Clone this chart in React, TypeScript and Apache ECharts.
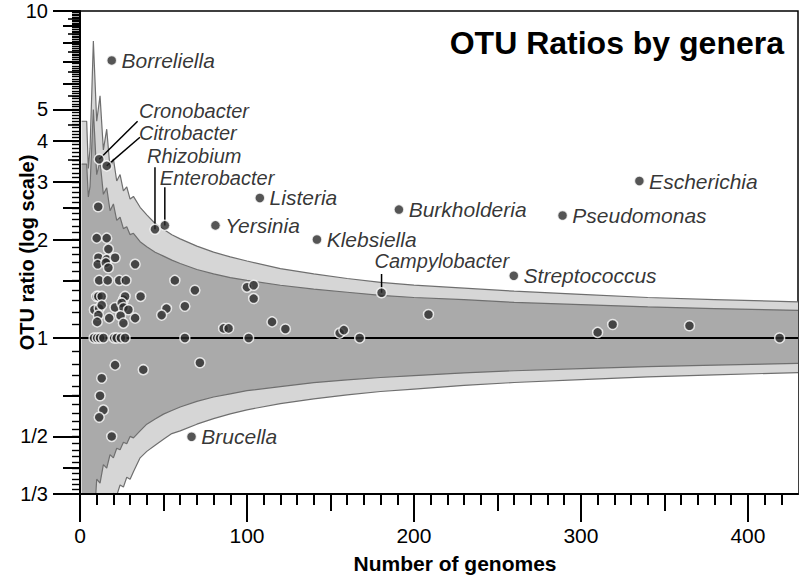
import React, { useEffect, useRef } from 'react';
import * as echarts from 'echarts';

const FONT = 'Liberation Sans, Arial, Helvetica, sans-serif';

// ---- unlabeled genera: number of genomes and OTU ratio ----
const genomeCounts = [
  10.9, 10, 16, 17, 11, 16, 21, 10.6, 15.5, 17, 33,
  11.5, 16.6, 23.5, 27.5, 56.8, 68.8, 10, 11, 13, 26, 27, 36.3,
  51.8, 48.9, 62.8, 8.6, 11.5, 13, 21, 25, 26, 29,
  11, 10.3, 17.5, 24.3, 33, 26,
  8.4, 10.3, 12, 14, 20.5, 22, 24.5, 27, 62.8, 101, 167.5, 419,
  21, 37.9, 13, 71.8, 12, 14, 11.5, 19,
  100, 104, 104, 86, 89, 115, 123, 155.5, 158, 208.7, 310, 319, 365,
];
const otuRatios = [
  2.52, 2.02, 2.02, 1.87, 1.76, 1.74, 1.76, 1.68, 1.70, 1.64, 1.68,
  1.50, 1.50, 1.50, 1.50, 1.50, 1.40, 1.34, 1.34, 1.34, 1.31, 1.34, 1.34,
  1.23, 1.175, 1.25, 1.22, 1.23, 1.26, 1.24, 1.28, 1.24, 1.22,
  1.175, 1.12, 1.15, 1.17, 1.15, 1.11,
  1, 1, 1, 1, 1, 1, 1, 1, 1, 1, 1, 1,
  0.826, 0.80, 0.753, 0.84, 0.666, 0.602, 0.572, 0.50,
  1.43, 1.45, 1.32, 1.07, 1.07, 1.12, 1.065, 1.035, 1.057, 1.18, 1.04, 1.10, 1.09,
];

// ---- labeled genera ----
const labeledGenera = ['Borreliella', 'Listeria', 'Yersinia', 'Klebsiella', 'Burkholderia', 'Pseudomonas', 'Escherichia', 'Streptococcus', 'Brucella'];
const labeledCounts = [19, 107.7, 81.1, 141.9, 191, 289, 335, 259.8, 66.8];
const labeledRatios = [7.06, 2.68, 2.21, 2.0, 2.47, 2.37, 3.02, 1.55, 0.499];

const leaderGenera = ['Cronobacter', 'Citrobacter', 'Rhizobium', 'Enterobacter', 'Campylobacter'];
const leaderCounts = [11.5, 16, 44.9, 50.8, 180.6];
const leaderRatios = [3.52, 3.36, 2.15, 2.21, 1.375];
// leader line ends and text anchors (layout, data coordinates)
const leaderLayout = {
  lineEnd: [[34.5, 4.6], [35.9, 4.11], [44.9, 3.33], [50.8, 2.89], [180.6, 1.57]],
  textAt: [[35.3, 4.94], [35.3, 4.23], [40.1, 3.6], [47.8, 3.08], [176.4, 1.72]],
};

// ---- confidence bands (ratio values read at each genome count) ----
const bandCounts = [1, 4, 5, 6, 7, 8, 10, 12, 14, 16, 18, 20, 22, 24, 26, 28, 30, 32, 36, 40, 45, 50, 55, 60, 70, 80, 90, 100, 120, 140, 160, 180, 200, 230, 260, 300, 340, 380, 430];
const upperOuter = [4.6, 4.6, 3.3, 3.8, 5.5, 8.1, 4.6, 5.5, 3.76, 4.35, 3.3, 3.53, 3.02, 3.16, 2.82, 2.9, 2.66, 2.71, 2.51, 2.38, 2.24, 2.15, 2.07, 2.01, 1.91, 1.83, 1.77, 1.72, 1.63, 1.57, 1.52, 1.48, 1.45, 1.42, 1.39, 1.36, 1.33, 1.31, 1.29];
const upperInner = [3.4, 3.4, 2.7, 2.9, 3.8, 5.0, 3.16, 3.47, 2.75, 2.88, 2.45, 2.57, 2.29, 2.34, 2.16, 2.19, 2.07, 2.09, 1.97, 1.9, 1.83, 1.78, 1.73, 1.69, 1.62, 1.57, 1.53, 1.5, 1.45, 1.41, 1.38, 1.35, 1.33, 1.31, 1.285, 1.265, 1.245, 1.23, 1.215];
const lowerInner = [0.2, 0.2, 0.2, 0.2, 0.2, 0.25, 0.37, 0.36, 0.41, 0.4, 0.44, 0.43, 0.46, 0.455, 0.48, 0.475, 0.5, 0.495, 0.52, 0.545, 0.565, 0.585, 0.6, 0.615, 0.64, 0.66, 0.675, 0.69, 0.71, 0.73, 0.745, 0.757, 0.767, 0.782, 0.794, 0.806, 0.817, 0.826, 0.836];
const lowerOuter = [0.15, 0.15, 0.15, 0.15, 0.15, 0.15, 0.18, 0.2, 0.22, 0.25, 0.3, 0.335, 0.33, 0.355, 0.35, 0.375, 0.37, 0.39, 0.43, 0.45, 0.47, 0.49, 0.51, 0.52, 0.545, 0.567, 0.586, 0.603, 0.63, 0.651, 0.67, 0.686, 0.698, 0.716, 0.731, 0.746, 0.76, 0.771, 0.784];

// ---- axes ----
const yTickValues = [1 / 3, 1 / 2, 1, 2, 3, 4, 5, 10];
const yTickLabels = ['1/3', '1/2', '1', '2', '3', '4', '5', '10'];
const yMediumTicks = [1 / 2.5, 1 / 1.5, 1.5, 2.5, 6, 7, 8, 9];
const ySmallMediumTicks = [3.5, 4.5, 5.5, 6.5, 7.5, 8.5, 9.5];
const xTickValues = [0, 100, 200, 300, 400];
const xMediumTicks = [50, 150, 250, 350];
const X_MAX = 430;

const lg = (v: number) => Math.log10(v);
const Y_MIN = lg(1 / 3);
const Y_MAX = lg(10);

function minorYTicks(): number[] {
  const out: number[] = [];
  for (let k = 1; k < 20; k++) out.push(lg(1 / (1 + k / 10)));
  for (let k = 1; k < 90; k++) out.push(lg(1 + k / 10));
  return out;
}
function minorXTicks(): number[] {
  const out: number[] = [];
  for (let v = 10; v < X_MAX; v += 10) out.push(v);
  return out;
}

function buildOption() {
  const yBase: any = {
    type: 'value', min: Y_MIN, max: Y_MAX, position: 'left', offset: 0, z: 10,
    splitLine: { show: false }, axisLabel: { show: false }, axisLine: { show: false, onZero: false },
  };
  const xBase: any = {
    type: 'value', min: 0, max: X_MAX, position: 'bottom', offset: 0, z: 10,
    splitLine: { show: false }, axisLabel: { show: false }, axisLine: { show: false, onZero: false },
  };
  const tickStyle = (w: number) => ({ color: '#000', width: w });

  const bandSeries = (vals: number[], fill: string) => ({
    type: 'line',
    z: 2,
    xAxisIndex: 0, yAxisIndex: 0,
    data: bandCounts.map((n, i) => [n, lg(vals[i])]),
    showSymbol: false, symbol: 'none', silent: true,
    lineStyle: { color: '#6f6f6f', width: 1.2 },
    areaStyle: { color: fill, opacity: 1, origin: 'start' },
    clip: true,
  });

  const pointStyle = { color: '#2b2b2b', borderColor: '#ffffff', borderWidth: 1.5 };
  const labelStyle = { fontFamily: FONT, fontSize: 21, fontStyle: 'italic', color: '#000' };

  return {
    animation: false,
    backgroundColor: '#ffffff',
    title: {
      text: 'OTU Ratios by genera', right: 11, top: 22,
      textStyle: { fontFamily: FONT, fontSize: 32, fontWeight: 'bold', color: '#000' },
    },
    grid: {
      left: 80, right: 2, top: 11, bottom: 85, show: true, borderColor: '#000', borderWidth: 1.5,
      backgroundColor: 'transparent', containLabel: false, outerBoundsMode: 'none',
    },
    xAxis: [
      {
        ...xBase,
        axisLine: { show: true, onZero: false, lineStyle: { color: '#000', width: 2 } },
        axisTick: { show: true, length: 28, lineStyle: tickStyle(2), customValues: xTickValues },
        axisLabel: { show: true, customValues: xTickValues, fontFamily: FONT, fontSize: 21, color: '#000', margin: 31 },
        name: 'Number of genomes', nameLocation: 'middle', nameGap: 59, nameMoveOverlap: false,
        nameTextStyle: { fontFamily: FONT, fontSize: 21, fontWeight: 'bold', color: '#000', padding: [0, 0, 0, 32] },
      },
      { ...xBase, axisTick: { show: true, length: 17, lineStyle: tickStyle(2), customValues: xMediumTicks } },
      { ...xBase, axisTick: { show: true, length: 11, lineStyle: tickStyle(2), customValues: minorXTicks() } },
    ],
    yAxis: [
      {
        ...yBase,
        axisLine: { show: true, onZero: false, lineStyle: { color: '#000', width: 2 } },
        axisTick: { show: true, length: 27, lineStyle: tickStyle(2), customValues: yTickValues.map(lg) },
        axisLabel: {
          show: true, customValues: yTickValues.map(lg), fontFamily: FONT, fontSize: 20, color: '#000', margin: 32,
          formatter: (v: number) => {
            const i = yTickValues.findIndex((t) => Math.abs(lg(t) - v) < 1e-6);
            return i >= 0 ? yTickLabels[i] : '';
          },
        },
        name: 'OTU ratio (log scale)', nameLocation: 'middle', nameGap: 43, nameMoveOverlap: false,
        nameTextStyle: { fontFamily: FONT, fontSize: 20, fontWeight: 'bold', color: '#000' },
      },
      { ...yBase, axisTick: { show: true, length: 17, lineStyle: tickStyle(2), customValues: yMediumTicks.map(lg) } },
      { ...yBase, axisTick: { show: true, length: 12, lineStyle: tickStyle(1.6), customValues: ySmallMediumTicks.map(lg) } },
      { ...yBase, axisTick: { show: true, length: 8, lineStyle: tickStyle(1.4), customValues: minorYTicks() } },
    ],
    series: [
      bandSeries(upperOuter, '#d6d6d6'),
      bandSeries(upperInner, '#aaaaaa'),
      bandSeries(lowerInner, '#d6d6d6'),
      {
        ...bandSeries(lowerOuter, '#ffffff'),
        markLine: {
          silent: true, symbol: 'none', label: { show: false },
          lineStyle: { color: '#000', width: 2, type: 'solid' },
          data: [{ yAxis: 0 }],
        },
      },
      // leader lines
      ...leaderGenera.map((_, i) => ({
        type: 'line', z: 4, silent: true, symbol: 'none', showSymbol: false,
        lineStyle: { color: '#000', width: 1.5 },
        data: [[leaderCounts[i], lg(leaderRatios[i])], [leaderLayout.lineEnd[i][0], lg(leaderLayout.lineEnd[i][1])]],
      })),
      {
        type: 'scatter', z: 6, symbolSize: 10, itemStyle: pointStyle,
        data: genomeCounts.map((n, i) => [n, lg(otuRatios[i])]),
      },
      {
        type: 'scatter', z: 6, symbolSize: 10, itemStyle: pointStyle,
        data: leaderGenera.map((g, i) => ({ name: g, value: [leaderCounts[i], lg(leaderRatios[i])] })),
      },
      {
        type: 'scatter', z: 6, symbolSize: 10, itemStyle: pointStyle,
        data: labeledGenera.map((g, i) => ({ name: g, value: [labeledCounts[i], lg(labeledRatios[i])] })),
        label: { show: true, position: 'right', distance: 4, formatter: '{b}', ...labelStyle },
      },
      {
        type: 'scatter', z: 6, symbolSize: 0, silent: true,
        data: leaderGenera.map((g, i) => ({ name: g, value: [leaderLayout.textAt[i][0], lg(leaderLayout.textAt[i][1])] })),
        label: { show: true, position: 'right', distance: 0, formatter: '{b}', ...labelStyle, fontSize: 20 },
      },
    ],
  };
}

export default function App() {
  const ref = useRef<HTMLDivElement>(null);
  useEffect(() => {
    const chart = echarts.init(ref.current as HTMLDivElement, null, { renderer: 'svg' });
    chart.setOption(buildOption() as any);
    return () => chart.dispose();
  }, []);
  return (
    <div
      ref={ref}
      style={{ position: 'fixed', left: 0, top: 0, width: 800, height: 579, background: '#fff' }}
    />
  );
}
